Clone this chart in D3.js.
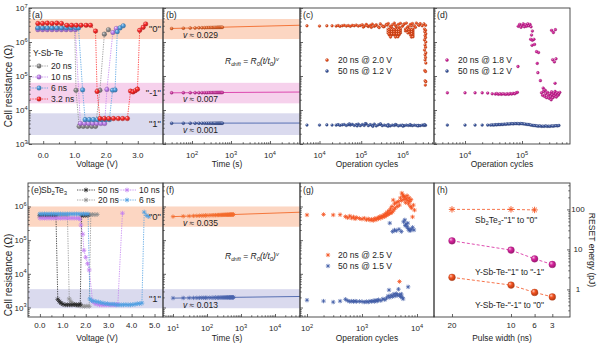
<!DOCTYPE html>
<html>
<head>
<meta charset="utf-8">
<script src="https://cdn.jsdelivr.net/npm/d3@7"></script>
<style>
body { margin: 0; background: #fff; }
svg { font-family: "Liberation Sans", Arial, sans-serif; }
</style>
</head>
<body>
<svg width="600" height="345"></svg>
<script>
// ---------- data ----------
// (a) Y-Sb-Te cell resistance vs programming voltage
const a20V = [-0.17,-0.02,0.13,0.28,0.43,0.58,0.73,0.88,1.00,1.04,1.14,1.27,1.40,1.54,1.66,1.80,1.94,2.07];
const a20R = [2.5e6,2.5e6,2.5e6,2.5e6,2.5e6,2.5e6,2.5e6,2.5e6,2.5e6,3.8e4,3.3e3,3.3e3,3.3e3,3.3e3,3.3e3,3.8e4,1.7e6,2.3e6];
const a10V = [-0.17,-0.02,0.13,0.28,0.43,0.58,0.73,0.88,1.02,1.18,1.31,1.44,1.57,1.70,1.83,1.95,2.02,2.21,2.32];
const a10R = [2.3e6,2.3e6,2.3e6,2.3e6,2.3e6,2.3e6,2.3e6,2.3e6,2.3e6,4.0e3,4.0e3,4.0e3,4.0e3,4.0e3,4.0e3,4.0e3,4.0e4,1.9e6,2.5e6];
const a6V = [-0.17,-0.02,0.13,0.28,0.43,0.58,0.73,0.88,1.04,1.12,1.25,1.33,1.46,1.59,1.72,1.85,1.98,2.10,2.20,2.28,2.35,2.44,2.54];
const a6R = [2.6e6,2.6e6,2.6e6,2.6e6,2.6e6,2.6e6,2.6e6,2.6e6,2.6e6,2.6e6,3.9e4,5.2e3,5.2e3,5.2e3,5.2e3,5.2e3,5.2e3,5.2e3,3.8e4,3.9e4,2.0e6,2.6e6,3.0e6];
const a3V = [-0.17,-0.02,0.13,0.28,0.43,0.58,0.75,0.90,1.05,1.20,1.36,1.50,1.66,1.71,1.80,1.94,2.08,2.23,2.38,2.52,2.67,2.77,2.85,2.92,2.99,3.06,3.17,3.25];
const a3R = [3.5e6,3.5e6,3.6e6,3.5e6,3.6e6,3.5e6,3.1e6,3.1e6,3.1e6,3.1e6,3.1e6,3.1e6,2.1e6,3.5e4,5.6e3,5.6e3,5.6e3,5.6e3,5.6e3,5.6e3,5.6e3,3.6e4,3.4e4,3.7e4,4.1e4,2.2e6,2.7e6,3.4e6];
const aNames = ["20 ns", "10 ns", "6 ns", "3.2 ns"];

// resistance windows of the three states
const topBands = [[1.22e6, 4.75e6], [1.57e4, 6.3e4], [1.84e3, 8.0e3]];
const botBands = [[2.5e5, 1.0e6], [950, 3.5e3]];
const stateTop = ['"0"', '"-1"', '"1"'];
const stateBot = ['"0"', '"1"'];

// (b) drift of the three Y-Sb-Te states
const bT = [30,60,90,120,150,180,210,240,270,300,330,360,390,420,450,480,510,540,570,600];
const b0 = [2.50e6,2.55e6,2.58e6,2.60e6,2.62e6,2.63e6,2.64e6,2.65e6,2.66e6,2.67e6,2.67e6,2.68e6,2.69e6,2.69e6,2.70e6,2.70e6,2.71e6,2.71e6,2.72e6,2.72e6];
const bM1 = [3.20e4,3.22e4,3.22e4,3.23e4,3.23e4,3.24e4,3.24e4,3.24e4,3.25e4,3.25e4,3.25e4,3.25e4,3.26e4,3.26e4,3.26e4,3.26e4,3.26e4,3.27e4,3.27e4,3.27e4];
const b1 = [4.10e3,4.10e3,4.10e3,4.10e3,4.10e3,4.10e3,4.10e3,4.10e3,4.10e3,4.10e3,4.11e3,4.11e3,4.11e3,4.11e3,4.11e3,4.11e3,4.11e3,4.11e3,4.11e3,4.11e3];
const bR0 = [2.5e6, 3.2e4, 4.1e3];
const bNu = [0.029, 0.007, 0.001];
const bT0 = 30;

// (c) endurance, Y-Sb-Te
const cCyc = [5e3,1e4,1.5e4,2e4,2.5e4,2.8e4,3.1e4,3.5e4,3.9e4,4.4e4,4.9e4,5.5e4,6.1e4,6.8e4,7.6e4,8.5e4,9.5e4,
  1.06e5,1.18e5,1.32e5,1.48e5,1.65e5,1.84e5,2.06e5,2.3e5,2.57e5,2.87e5,3.2e5,3.58e5,4.0e5,4.46e5,4.98e5,5.57e5,6.2e5,6.95e5,7.8e5,8.7e5,
  9.7e5,1.08e6,1.21e6,1.35e6,1.51e6,1.69e6,1.88e6,2.1e6,2.35e6,2.6e6,2.9e6,3.2e6,3.5e6];
const cOr = [3.0e6,2.95e6,3.0e6,3.0e6,
  2.95e6,3.05e6,2.9e6,3.0e6,3.1e6,2.95e6,3.05e6,2.9e6,3.1e6,3.0e6,3.15e6,2.95e6,3.05e6,
  3.2e6,2.9e6,3.3e6,2.85e6,3.1e6,3.35e6,2.9e6,3.2e6,2.8e6,3.4e6,3.0e6,2.85e6,3.3e6,3.5e6,2.9e6,3.2e6,3.6e6,2.8e6,3.3e6,3.55e6,
  2.9e6,3.4e6,3.6e6,2.85e6,3.3e6,3.5e6,3.0e6,3.6e6,3.2e6,3.45e6,3.0e6,3.4e6,3.1e6];
const cBl = [3.6e3,3.6e3,3.65e3,3.6e3,
  3.6e3,3.7e3,3.55e3,3.65e3,3.75e3,3.5e3,3.7e3,3.6e3,3.8e3,3.5e3,3.7e3,3.85e3,3.45e3,
  3.75e3,3.5e3,3.9e3,3.45e3,3.7e3,3.55e3,3.85e3,3.4e3,3.65e3,3.8e3,3.45e3,3.6e3,3.5e3,3.7e3,3.4e3,3.6e3,3.5e3,3.65e3,3.4e3,3.55e3,
  3.6e3,3.45e3,3.6e3,3.5e3,3.55e3,3.45e3,3.6e3,3.5e3,3.55e3,3.45e3,3.6e3,3.5e3,3.55e3];
const cOrMore = [
  [1.12e5,2.75e6],[1.4e5,3.0e6],[1.75e5,2.7e6],[2.2e5,3.05e6],[2.7e5,2.65e6],[3.4e5,2.8e6],[4.2e5,3.15e6],[5.3e5,2.7e6],
  [6.6e5,3.1e6],[8.2e5,2.7e6],[1.02e6,3.2e6],[1.28e6,2.7e6],[1.6e6,3.0e6],[2.0e6,2.7e6],[2.45e6,3.1e6],
  [4.4e5,2.41e6],[5.05e5,2.41e6],[5.8e5,2.41e6],[6.65e5,2.41e6],[7.6e5,2.41e6],[8.75e5,2.41e6],
  [4.4e5,2.11e6],[5.05e5,2.11e6],[5.8e5,2.11e6],[6.65e5,2.11e6],[7.6e5,2.11e6],[8.75e5,2.11e6],
  [4.4e5,1.84e6],[5.05e5,1.84e6],[5.8e5,1.84e6],[6.65e5,1.84e6],[7.6e5,1.84e6],[8.75e5,1.84e6],
  [4.7e5,1.61e6],[5.4e5,1.61e6],[6.2e5,1.61e6],[7.1e5,1.61e6],[8.1e5,1.61e6],[5.05e5,1.4e6],[6.65e5,1.4e6],[7.6e5,1.42e6],
  [4.7e5,2.26e6],[5.4e5,2.26e6],[6.2e5,2.26e6],[7.1e5,2.26e6],[8.1e5,2.26e6],
  [4.7e5,1.97e6],[5.4e5,1.97e6],[6.2e5,1.97e6],[7.1e5,1.97e6],[8.1e5,1.97e6],
  [4.7e5,1.72e6],[5.4e5,1.72e6],[6.2e5,1.72e6],[7.1e5,1.72e6],[8.1e5,1.72e6],
  [1.15e6,2.41e6],[1.32e6,2.41e6],[1.52e6,2.41e6],[1.75e6,2.41e6],[1.15e6,2.11e6],[1.32e6,2.11e6],[1.52e6,2.11e6],[1.75e6,2.11e6],
  [1.32e6,1.84e6],[1.52e6,1.84e6],[1.75e6,1.84e6],[1.52e6,1.61e6],[1.75e6,1.61e6],[1.6e6,1.4e6],[1.75e6,1.42e6],
  [1.23e6,2.26e6],[1.42e6,2.26e6],[1.63e6,2.26e6],[1.42e6,1.97e6],[1.63e6,1.97e6],[1.63e6,1.72e6],
  [3.3e6,2.4e6],[3.5e6,2.2e6],[3.35e6,2.0e6],[3.55e6,1.75e6],[3.4e6,1.55e6],[3.5e6,1.35e6],[3.3e6,1.15e6],[3.55e6,1.0e6],
  [3.4e6,8.2e5],[3.5e6,7.0e5],[3.3e6,5.8e5],[3.55e6,4.8e5],[3.4e6,4.2e5],[3.5e6,3.5e5],[3.4e6,2.96e5],[3.55e6,2.4e5],
  [3.35e6,1.45e5],[3.5e6,1.35e5],[3.4e6,7.2e4],[3.55e6,6.8e4],[3.45e6,5.4e4]];
const cBlMore = [[5.2e4,3.9e3],[8e4,3.4e3],[1.25e5,3.95e3],[1.9e5,3.3e3],[2.9e5,3.9e3],[4.4e5,3.35e3],[6.6e5,3.75e3],
  [1.0e6,3.35e3],[1.5e6,3.7e3],[2.3e6,3.4e3],[3.3e6,3.7e3]];

// (d) endurance, Y-Sb-Te, intermediate state
const dCyc = [4.9e3,1e4,1.5e4,2e4,2.5e4,2.8e4,3.0e4,3.2e4,3.4e4,3.6e4,3.85e4,4.1e4,4.35e4,4.6e4,4.9e4,5.2e4,5.5e4,5.85e4,6.2e4,6.6e4,
  7.0e4,7.45e4,7.9e4,8.4e4,8.9e4,9.45e4,1.0e5,1.06e5,1.13e5,1.2e5,1.27e5,1.35e5,1.43e5,1.52e5,1.61e5,
  1.71e5,1.82e5,1.93e5,2.05e5,2.18e5,2.31e5,2.45e5,2.6e5,2.76e5,2.93e5,3.1e5,3.3e5,3.5e5,3.7e5,3.95e5,4.2e5,4.45e5];
const dBl = [3.6e3,3.6e3,3.6e3,3.6e3,3.6e3,
  3.6e3,3.65e3,3.6e3,3.7e3,3.65e3,3.75e3,3.7e3,3.8e3,3.75e3,3.85e3,3.8e3,3.9e3,3.85e3,3.9e3,3.95e3,
  3.9e3,4.0e3,3.95e3,4.0e3,3.9e3,4.0e3,3.95e3,3.9e3,3.85e3,3.8e3,3.75e3,3.7e3,3.6e3,3.55e3,3.5e3,
  3.45e3,3.4e3,3.35e3,3.4e3,3.3e3,3.35e3,3.3e3,3.4e3,3.3e3,3.35e3,3.3e3,3.4e3,3.35e3,3.4e3,3.45e3,3.4e3,3.5e3];
const dMg = [
  [4.9e3,3.2e4],[1e4,3.2e4],[1.5e4,3.2e4],[2e4,3.2e4],[2.5e4,3.15e4],[3.0e4,3.0e4],[3.4e4,2.95e4],[3.6e4,3.05e4],[3.85e4,2.9e4],
  [4.1e4,3.0e4],[4.35e4,2.9e4],[4.6e4,3.0e4],[4.9e4,2.95e4],[5.2e4,2.9e4],[5.5e4,3.0e4],[5.85e4,2.9e4],[6.2e4,3.05e4],[6.6e4,2.95e4],
  [7.0e4,3.1e4],[7.45e4,3.0e4],[7.9e4,3.2e4],[8.3e4,3.3e4],[8.5e4,1.9e5],
  [8.6e4,2.9e6],[9.1e4,3.3e6],[9.6e4,2.7e6],[1.0e5,3.1e6],[1.05e5,3.4e6],[1.1e5,2.8e6],[1.15e5,3.2e6],[1.2e5,2.9e6],[1.26e5,3.4e6],
  [1.32e5,3.0e6],[1.38e5,3.3e6],[1.44e5,2.8e6],
  [1.52e5,2.1e6],[1.47e5,1.6e6],[1.42e5,1.2e6],[1.52e5,1.12e6],[1.62e5,1.2e6],[1.5e5,8.0e5],[1.66e5,8.5e5],[1.8e5,5.2e5],[1.95e5,4.9e5],
  [1.85e5,2.35e5],[1.9e5,1.25e5],[2.1e5,7.3e4],[2.35e5,4.4e4],[2.45e5,3.9e4],
  [2.2e5,3.2e4],[2.3e5,2.7e4],[2.4e5,3.5e4],[2.5e5,2.5e4],[2.6e5,3.0e4],[2.7e5,2.3e4],[2.8e5,3.3e4],[2.9e5,2.7e4],[3.0e5,2.2e4],
  [3.1e5,3.0e4],[3.2e5,2.5e4],[3.3e5,3.4e4],[3.4e5,2.8e4],[3.5e5,2.3e4],[3.6e5,3.1e4],[3.7e5,2.6e4],[3.8e5,3.5e4],[3.9e5,2.9e4],
  [4.0e5,2.4e4],[4.15e5,3.2e4],[4.3e5,2.7e4],[4.45e5,3.0e4],[4.6e5,3.3e4],[2.55e5,3.8e4],[3.25e5,2.0e4],
  [3.3e5,2.2e6],[3.55e5,1.9e6],[3.85e5,2.3e6],[3.45e5,3.0e5],[3.7e5,2.6e5],[3.95e5,3.2e5],[3.8e5,6.1e4]];

// (e) Sb2Te3 cell resistance vs voltage
const e50V = [0.0,0.1,0.2,0.3,0.4,0.5,0.6,0.7,0.78,0.85,0.92,1.0,1.1,1.2,1.3,1.4,1.5,1.6,1.7,1.76,1.82,1.9,2.0,2.1];
const e50R = [5.3e5,5.3e5,5.3e5,5.3e5,5.3e5,5.3e5,5.3e5,5.3e5,1.75e3,1.5e3,1.35e3,1.25e3,1.2e3,1.2e3,1.2e3,1.2e3,1.22e3,1.2e3,1.2e3,1.25e3,5.3e5,5.5e5,5.4e5,5.5e5];
const e20V = [0.0,0.1,0.2,0.3,0.4,0.5,0.6,0.7,0.8,0.9,1.0,1.1,1.2,1.28,1.35,1.45,1.55,1.65,1.75,1.85,1.95,2.05,2.15,2.22,2.3,2.4,2.5];
const e20R = [5.5e5,5.5e5,5.5e5,5.5e5,5.5e5,5.5e5,5.5e5,5.5e5,5.5e5,5.5e5,5.5e5,5.5e5,5.5e5,1.8e3,1.5e3,1.3e3,1.2e3,1.15e3,1.12e3,1.1e3,1.08e3,1.1e3,1.08e3,5.7e5,5.8e5,5.7e5,5.8e5];
const e10V = [0.0,0.1,0.2,0.3,0.4,0.5,0.6,0.7,0.8,0.9,1.0,1.1,1.2,1.3,1.4,1.5,1.6,1.7,1.75,1.79,1.87,1.92,2.0,2.08,2.15,
  2.3,2.4,2.5,2.6,2.7,2.8,2.9,3.0,3.1,3.2,3.3,3.4,3.6];
const e10R = [4.5e5,4.5e5,4.5e5,4.5e5,4.5e5,4.5e5,4.5e5,4.5e5,4.5e5,4.5e5,4.5e5,4.5e5,4.5e5,4.5e5,4.5e5,4.5e5,4.5e5,4.5e5,4.2e5,2.8e5,1.5e5,5.0e4,3.1e4,2.0e4,1.3e4,
  1.5e3,1.3e3,1.25e3,1.2e3,1.2e3,1.2e3,1.2e3,1.2e3,1.2e3,1.2e3,1.2e3,1.25e3,6.3e5];
const e6V = [0.0,0.1,0.2,0.3,0.4,0.5,0.6,0.7,0.8,0.9,1.0,1.1,1.2,1.3,1.4,1.5,1.6,1.7,1.8,1.9,2.0,2.1,2.18,
  2.25,2.35,2.45,2.55,2.65,2.75,2.85,2.95,3.05,3.15,3.25,3.35,3.45,3.55,3.65,3.75,3.85,3.95,4.05,4.15,4.25,4.35,4.45,4.55,4.66,4.75];
const e6R = [6.0e5,6.0e5,6.0e5,6.0e5,6.0e5,6.0e5,6.0e5,6.0e5,6.0e5,6.0e5,6.0e5,6.0e5,6.0e5,6.0e5,6.0e5,6.0e5,6.0e5,6.0e5,6.0e5,6.0e5,6.0e5,6.0e5,1.8e3,
  1.6e3,1.55e3,1.5e3,1.45e3,1.4e3,1.35e3,1.3e3,1.3e3,1.25e3,1.25e3,1.25e3,1.2e3,1.2e3,1.2e3,1.2e3,1.22e3,1.2e3,1.2e3,1.22e3,1.25e3,1.3e3,1.3e3,1.35e3,6.8e5,5.4e5,5.0e5];
const eNames = ["50 ns", "20 ns", "10 ns", "6 ns"];

// (f) drift of the two Sb2Te3 states
const fT = [10,20,30,40,50,60,70,80,90,100,120,140,160,180,200,220,240,260,280,300,320,340,360,380,400,420,440,460,480,500,520,540,560,580,600];
const f0 = [5.00e5,5.12e5,5.19e5,5.25e5,5.29e5,5.33e5,5.35e5,5.38e5,5.40e5,5.42e5,5.46e5,5.49e5,5.52e5,5.54e5,5.56e5,5.58e5,5.60e5,5.62e5,
  5.63e5,5.65e5,5.66e5,5.67e5,5.68e5,5.69e5,5.70e5,5.71e5,5.72e5,5.73e5,5.74e5,5.74e5,5.75e5,5.76e5,5.76e5,5.77e5,5.78e5];
const f1 = [1.90e3,1.92e3,1.93e3,1.93e3,1.94e3,1.94e3,1.95e3,1.95e3,1.95e3,1.96e3,1.96e3,1.96e3,1.97e3,1.97e3,1.97e3,1.97e3,1.98e3,1.98e3,
  1.98e3,1.98e3,1.98e3,1.98e3,1.99e3,1.99e3,1.99e3,1.99e3,1.99e3,1.99e3,1.99e3,2.00e3,2.00e3,2.00e3,2.00e3,2.00e3,2.00e3];
const fR0 = [5.0e5, 1.9e3];
const fNu = [0.035, 0.013];
const fT0 = 10;

// (g) endurance, Sb2Te3
const gOr = [[100,5.6e5],[200,5.8e5],[300,5.6e5],[400,5.7e5],[500,5.0e5],[550,4.6e5],[600,5.2e5],[650,4.5e5],[700,4.9e5],[750,4.3e5],
  [800,4.7e5],[900,4.4e5],[1000,4.2e5],[1100,4.5e5],[1200,4.0e5],[1300,4.3e5],[1400,3.9e5],[1500,4.2e5],[1600,3.8e5],[1700,4.4e5],
  [1800,4.0e5],[1900,4.6e5],[2000,4.3e5],[2100,5.0e5],[2200,4.5e5],[2300,5.2e5],[2400,4.8e5],[2500,5.6e5],[2600,5.0e5],[2700,6.2e5],
  [2800,5.4e5],[2900,6.8e5],[3000,5.8e5],[3100,7.5e5],[3200,6.2e5],[3300,8.5e5],[3400,6.5e5],[3500,1.0e6],[3600,7.0e5],[3700,1.55e6],
  [3800,8.0e5],[3900,1.2e6],[4000,9.0e5],[4200,1.3e6],[4400,1.0e6],[4800,5.9e3],[4600,1.4e6],[4800,1.1e6],[5000,1.8e6],[5200,1.5e6],
  [5300,2.5e6],[5500,2.2e6],[5700,2.0e6],[5800,1.6e6],[6000,1.9e6],[6200,1.3e6],[6400,1.7e6],[6600,2.1e6],[6800,1.5e6],[7000,1.2e6],
  [7200,1.8e6],[7400,1.4e6],[7600,1.0e6],[7800,1.6e6],[8000,9.0e5],[8300,4.9e5],[8600,1.1e6],[9000,7.8e5]];
const gBl = [[100,1.65e3],[200,1.55e3],[300,1.45e3],[400,1.55e3],[500,1.75e3],[550,1.6e3],[600,1.5e3],[650,1.55e3],[700,1.5e3],
  [750,1.55e3],[800,1.5e3],[900,1.52e3],[1000,1.5e3],[1100,1.45e3],[1200,1.5e3],[1300,1.45e3],[1400,1.55e3],[1500,1.5e3],[1600,1.6e3],
  [1700,1.5e3],[1800,1.65e3],[1900,1.55e3],[2000,1.7e3],[2200,1.6e3],[2400,1.8e3],[2600,1.7e3],[2800,1.9e3],[3000,2.2e3],[3100,3.3e3],
  [3200,2.0e3],[3400,2.3e3],[3600,2.1e3],[3800,2.5e3],[4000,2.2e3],[4200,2.6e3],[4400,2.3e3],[4600,3.5e3],[4800,2.4e3],[5000,2.1e3],
  [5200,2.5e3],[5400,2.0e3],[5600,1.8e3],[6900,4.1e3],
  [3200,3.2e5],[3600,1.8e5],[3900,2.0e5],[4200,1.9e5],[4700,2.1e5],[5200,1.8e5],[5700,3.5e5],[6000,4.0e5],[6300,3.0e5],[6600,2.5e5],
  [6900,2.2e5],[7200,2.0e5],[7500,1.9e5],[6100,2.7e5],[6800,3.2e5],[7800,2.1e5],[8300,2.4e5],[8800,2.0e5]];

// (h) RESET energy vs pulse width
const hWsb = [20, 10, 6];
const hEsb = [100, 100, 97];
const hW = [20, 10, 6, 3];
const hE1 = [16.4, 9.6, 5.8, 4.2];
const hE2 = [2.0, 1.28, 0.84, 0.65];

// ---------- drawing ----------
const svg = d3.select("svg");
const defs = svg.append("defs");
const AX = "#3c3c3c", TXT = "#1e1e1e";
const col = {red: "#ff2a2a", gray: "#8e8e8e", violet: "#c17ff0", sky: "#4f9fe2", black: "#262626",
  orange: "#f4511e", magenta: "#d6229c", navy: "#3f5ba5", fitOr: "#f36b2c", fitMg: "#d93aa8", fitNv: "#4a64ad"};
const zip = (a, b) => a.map((v, i) => [v, b[i]]);

function ball(id, c) {
  const g = defs.append("radialGradient").attr("id", id)
    .attr("cx", "40%").attr("cy", "38%").attr("r", "62%").attr("fx", "32%").attr("fy", "28%");
  g.append("stop").attr("offset", 0).attr("stop-color", d3.interpolateRgb(c, "#fff")(0.7));
  g.append("stop").attr("offset", 0.45).attr("stop-color", c);
  g.append("stop").attr("offset", 1).attr("stop-color", d3.color(c).darker(0.9));
  return `url(#${id})`;
}

function starPath(s) {
  const d = s * 0.72;
  return `M${-s},0H${s}M0,${-s}V${s}M${-d},${-d}L${d},${d}M${-d},${d}L${d},${-d}`;
}

// scales: one pair per panel
const xa = d3.scaleLinear([-0.45, 3.8], [29, 163]);
const ya = d3.scaleLog([1e3, 1e7], [144, 8]);
const xb = d3.scaleLog([10 ** 1.256, 10 ** 4.77], [163, 300]);
const xc = d3.scaleLog([10 ** 3.532, 10 ** 6.746], [300, 434]);
const xd = d3.scaleLog([10 ** 3.456, 10 ** 5.842], [434, 570]);
const xe = d3.scaleLinear([-0.52, 5.37], [28, 163]);
const ye = d3.scaleLog([10 ** 2.718, 10 ** 6.697], [317, 183]);
const xf = d3.scaleLog([10 ** 0.706, 10 ** 4.735], [163, 300]);
const xg = d3.scaleLog([10 ** 1.873, 10 ** 4.309], [300, 434]);
const xh = d3.scaleLinear([23.05, 0], [434, 570]);
const yh = d3.scaleLog([10 ** -0.69, 10 ** 2.66], [317, 183]);

function decades(s) {
  const [a, b] = s.domain().map(Math.log10), out = [];
  for (let e = Math.ceil(a); e <= Math.floor(b); e++) out.push(10 ** e);
  return out;
}
function minors(s) {
  const [a, b] = s.domain(), out = [];
  for (let e = Math.floor(Math.log10(a)); e <= Math.ceil(Math.log10(b)); e++)
    for (let m = 2; m < 10; m++) { const v = m * 10 ** e; if (v > a && v < b) out.push(v); }
  return out;
}

function ticks(axis, s, pos, major, minor) {
  const g = svg.append("g").attr("transform", axis === "x" ? `translate(0,${pos})` : `translate(${pos},0)`);
  const mk = axis === "x" ? d3.axisBottom : (axis === "y" ? d3.axisLeft : d3.axisRight);
  g.call(mk(s).tickValues(major).tickSize(-3).tickFormat(""));
  if (minor) g.append("g").call(mk(s).tickValues(minor).tickSize(-1.7).tickFormat(""));
  g.selectAll(".domain").remove();
  g.selectAll("line").attr("stroke", AX).attr("stroke-width", 0.8);
}

function text(x, y, str, opt = {}) {
  return svg.append("text").attr("x", x).attr("y", y).attr("fill", TXT)
    .attr("font-size", opt.size || 8.5).attr("text-anchor", opt.anchor || "start").text(str);
}
function pow10(x, y, e, anchor) {
  const t = svg.append("text").attr("x", x).attr("y", y).attr("fill", TXT)
    .attr("font-size", 8).attr("text-anchor", anchor);
  t.append("tspan").text("10");
  t.append("tspan").attr("dy", -3.4).attr("font-size", 5.6).text(e);
}
function frame(xs, ys) {
  const [x0, x1] = xs.range(), [y1, y0] = ys.range();
  svg.append("rect").attr("x", x0).attr("y", y0).attr("width", x1 - x0).attr("height", y1 - y0)
    .attr("fill", "none").attr("stroke", AX).attr("stroke-width", 0.9);
}

function balls(data, xs, ys, r, fill, stroke) {
  svg.append("g").selectAll("circle").data(data).join("circle")
    .attr("cx", d => xs(d[0])).attr("cy", d => ys(d[1])).attr("r", r)
    .attr("fill", fill).attr("stroke", stroke).attr("stroke-width", 0.35);
}
function stars(data, xs, ys, s, c, w) {
  svg.append("g").selectAll("path").data(data).join("path")
    .attr("transform", d => `translate(${xs(d[0])},${ys(d[1])})`)
    .attr("d", starPath(s)).attr("fill", "none").attr("stroke", c).attr("stroke-width", w || 0.8);
}
function trace(data, xs, ys, c, dash, w) {
  svg.append("path").datum(data)
    .attr("d", d3.line().x(d => xs(d[0])).y(d => ys(d[1])))
    .attr("fill", "none").attr("stroke", c).attr("stroke-width", w || 0.8)
    .attr("stroke-dasharray", dash || null);
}

// shaded state windows behind (a)-(b) and (e)-(f)
const topFill = ["#fcd6c2", "#f6d1ec", "#dadaee"];
topBands.forEach((b, i) => svg.append("rect").attr("x", xa.range()[0]).attr("width", xb.range()[1] - xa.range()[0])
  .attr("y", ya(b[1])).attr("height", ya(b[0]) - ya(b[1])).attr("fill", topFill[i]));
const botFill = ["#fcd6c2", "#dadaee"];
botBands.forEach((b, i) => svg.append("rect").attr("x", xe.range()[0]).attr("width", xf.range()[1] - xe.range()[0])
  .attr("y", ye(b[1])).attr("height", ye(b[0]) - ye(b[1])).attr("fill", botFill[i]));

// ---------- (a) ----------
const aSeries = [zip(a20V, a20R), zip(a10V, a10R), zip(a6V, a6R), zip(a3V, a3R)];
const aCols = [col.gray, col.violet, col.sky, col.red];
const aFills = aCols.map((c, i) => ball("ga" + i, c));
aSeries.forEach((s, i) => trace(s, xa, ya, aCols[i], "1.3,1.1", 0.8));
aSeries.forEach((s, i) => balls(s, xa, ya, 2.3, aFills[i], d3.color(aCols[i]).darker(1)));
text(33, 56, "Y-Sb-Te");
aNames.forEach((n, i) => {
  const y = 66 + i * 11;
  svg.append("line").attr("x1", 30).attr("x2", 48).attr("y1", y).attr("y2", y)
    .attr("stroke", aCols[i]).attr("stroke-width", 0.8).attr("stroke-dasharray", "1.3,1.1");
  svg.append("circle").attr("cx", 39).attr("cy", y).attr("r", 2.3).attr("fill", aFills[i])
    .attr("stroke", d3.color(aCols[i]).darker(1)).attr("stroke-width", 0.35);
  text(51, y + 3, n);
});

// ---------- (b) ----------
const bSeries = [zip(bT, b0), zip(bT, bM1), zip(bT, b1)];
const bCols = [col.fitOr, col.fitMg, col.fitNv];
const bTmax = xb.domain()[1];
bR0.forEach((r0, i) => trace([[bT0, r0], [bTmax, r0 * (bTmax / bT0) ** bNu[i]]], xb, ya, bCols[i], null, 0.9));
bSeries.forEach((s, i) => balls(s, xb, ya, 1.5, ball("gb" + i, bCols[i]), d3.color(bCols[i]).darker(1)));
function nuLabel(x, y, nu) {
  const t = text(x, y, "");
  t.append("tspan").attr("font-style", "italic").text("v");
  t.append("tspan").text(" \u2248 " + nu.toFixed(3));
}
bR0.forEach((r0, i) => {
  nuLabel(183, ya(r0) + 9.5, bNu[i]);
  text(161, ya(r0) + 3.5, stateTop[i], {anchor: "end", size: 9.5});
});
function formula(x, y) {
  const t = text(x, y, "");
  t.append("tspan").attr("font-style", "italic").text("R");
  t.append("tspan").attr("font-style", "italic").attr("font-size", 5.8).attr("dy", 2).text("drift");
  t.append("tspan").attr("dy", -2).text(" = ");
  t.append("tspan").attr("font-style", "italic").text("R");
  t.append("tspan").attr("font-style", "italic").attr("font-size", 5.8).attr("dy", 2).text("0");
  t.append("tspan").attr("dy", -2).attr("font-style", "italic").text("(t/t");
  t.append("tspan").attr("font-style", "italic").attr("font-size", 5.8).attr("dy", 2).text("0");
  t.append("tspan").attr("dy", -2).attr("font-style", "italic").text(")");
  t.append("tspan").attr("font-style", "italic").attr("font-size", 5.8).attr("dy", -3.5).text("v");
}
formula(225, 64);

// ---------- (c) ----------
const cOrG = ball("gco", col.orange), cBlG = ball("gcb", col.navy);
balls(zip(cCyc, cBl).concat(cBlMore), xc, ya, 1.35, cBlG, d3.color(col.navy).darker(0.8));
balls(zip(cCyc, cOr).concat(cOrMore), xc, ya, 1.35, cOrG, d3.color(col.orange).darker(0.8));
balls([[0, 0]], () => 327, () => 60, 1.5, cOrG, d3.color(col.orange).darker(0.8));
balls([[0, 0]], () => 327, () => 71, 1.5, cBlG, d3.color(col.navy).darker(0.8));
text(338, 63, "20 ns @ 2.0 V");
text(338, 74, "50 ns @ 1.2 V");

// ---------- (d) ----------
const dMgG = ball("gdm", col.magenta);
balls(zip(dCyc, dBl), xd, ya, 1.4, cBlG, d3.color(col.navy).darker(0.8));
balls(dMg, xd, ya, 1.4, dMgG, d3.color(col.magenta).darker(0.8));
balls([[0, 0]], () => 447, () => 60, 1.5, dMgG, d3.color(col.magenta).darker(0.8));
balls([[0, 0]], () => 447, () => 71, 1.5, cBlG, d3.color(col.navy).darker(0.8));
text(458, 63, "20 ns @ 1.8 V");
text(458, 74, "50 ns @ 1.2 V");

// ---------- (e) ----------
const eSeries = [zip(e50V, e50R), zip(e20V, e20R), zip(e10V, e10R), zip(e6V, e6R)];
const eCols = [col.black, col.gray, col.violet, col.sky];
const eOrder = [1, 0, 2, 3];
eOrder.forEach(i => trace(eSeries[i], xe, ye, eCols[i], "1.3,1.1", 0.8));
eOrder.forEach(i => stars(eSeries[i], xe, ye, 2.4, eCols[i], 0.75));
eNames.forEach((n, i) => {
  const cx = i < 2 ? 77 : 118, y = 190 + (i % 2) * 10;
  svg.append("line").attr("x1", cx).attr("x2", cx + 18).attr("y1", y).attr("y2", y)
    .attr("stroke", eCols[i]).attr("stroke-width", 0.8).attr("stroke-dasharray", "1.3,1.1");
  stars([[0, 0]], () => cx + 9, () => y, 2.4, eCols[i], 0.75);
  text(cx + 21, y + 3, n);
});
{
  const t = text(41, 193, "");
  t.append("tspan").text("Sb");
  t.append("tspan").attr("font-size", 6).attr("dy", 2).text("2");
  t.append("tspan").attr("dy", -2).text("Te");
  t.append("tspan").attr("font-size", 6).attr("dy", 2).text("3");
}

// ---------- (f) ----------
const fSeries = [zip(fT, f0), zip(fT, f1)];
const fCols = [col.fitOr, col.fitNv];
const fTmax = xf.domain()[1];
fR0.forEach((r0, i) => trace([[fT0, r0], [fTmax, r0 * (fTmax / fT0) ** fNu[i]]], xf, ye, fCols[i], null, 0.9));
fSeries.forEach((s, i) => stars(s, xf, ye, 2.2, fCols[i], 0.7));
fR0.forEach((r0, i) => {
  nuLabel(183, ye(r0) + 9.5, fNu[i]);
  text(161, ye(r0) + 3.5, stateBot[i], {anchor: "end", size: 9.5});
});
formula(225, 259);

// ---------- (g) ----------
stars(gBl, xg, ye, 2.2, col.navy, 0.75);
stars(gOr, xg, ye, 2.2, col.orange, 0.75);
stars([[0, 0]], () => 328, () => 255, 2.2, col.orange, 0.75);
stars([[0, 0]], () => 328, () => 266, 2.2, col.navy, 0.75);
text(338, 258, "20 ns @ 2.5 V");
text(338, 269, "50 ns @ 1.5 V");

// ---------- (h) ----------
trace(zip(hWsb, hEsb), xh, yh, col.orange, "3,2", 0.8);
trace(zip(hW, hE1), xh, yh, col.magenta, "3,2", 0.8);
trace(zip(hW, hE2), xh, yh, col.orange, "3,2", 0.8);
stars(zip(hWsb, hEsb), xh, yh, 3.2, col.orange, 0.9);
balls(zip(hW, hE1), xh, yh, 3.4, ball("ghm", col.magenta), d3.color(col.magenta).darker(1));
balls(zip(hW, hE2), xh, yh, 3.4, ball("gho", col.orange), d3.color(col.orange).darker(1));
{
  const t = text(475, 223, "");
  t.append("tspan").text("Sb");
  t.append("tspan").attr("font-size", 6).attr("dy", 2).text("2");
  t.append("tspan").attr("dy", -2).text("Te");
  t.append("tspan").attr("font-size", 6).attr("dy", 2).text("3");
  t.append("tspan").attr("dy", -2).text('-"1" to "0"');
}
text(475, 275, 'Y-Sb-Te-"1" to "-1"');
text(475, 308, 'Y-Sb-Te-"-1" to "0"');

// ---------- axes, frames, labels ----------
const panels = [
  [xa, ya, "(a)"], [xb, ya, "(b)"], [xc, ya, "(c)"], [xd, ya, "(d)"],
  [xe, ye, "(e)"], [xf, ye, "(f)"], [xg, ye, "(g)"], [xh, yh, "(h)"]];
panels.forEach(([xs, ys, lab]) => {
  frame(xs, ys);
  text(xs.range()[0] + 3, ys.range()[1] + 9.5, lab, {size: 8.7});
});

// y ticks
[xa, xb, xc, xd].forEach(xs => ticks("y", ya, xs.range()[0], decades(ya), minors(ya)));
[xe, xf, xg].forEach(xs => ticks("y", ye, xs.range()[0], decades(ye), minors(ye)));
ticks("r", yh, xh.range()[1], decades(yh), minors(yh));
decades(ya).forEach(v => pow10(27.5, ya(v) + 3, Math.log10(v), "end"));
decades(ye).forEach(v => pow10(26.5, ye(v) + 3, Math.round(Math.log10(v)), "end"));
decades(yh).forEach(v => text(578, yh(v) + 3, String(v), {size: 8, anchor: "middle"}));

// x ticks
ticks("x", xa, 144, [0, 1, 2, 3], [-0.5, 0.5, 1.5, 2.5, 3.5]);
[0, 1, 2, 3].forEach(v => text(xa(v), 158, v.toFixed(1), {size: 8, anchor: "middle"}));
[[xb, 144], [xc, 144], [xd, 144], [xf, 317], [xg, 317]].forEach(([xs, y]) => {
  ticks("x", xs, y, decades(xs), minors(xs));
  decades(xs).forEach(v => pow10(xs(v), y + 14, Math.round(Math.log10(v)), "middle"));
});
ticks("x", xe, 317, [0, 1, 2, 3, 4, 5], [0.5, 1.5, 2.5, 3.5, 4.5]);
[0, 1, 2, 3, 4, 5].forEach(v => text(xe(v), 328, v.toFixed(1), {size: 8, anchor: "middle"}));
ticks("x", xh, 317, [20, 10, 6, 3]);
[20, 10, 6, 3].forEach(v => text(xh(v), 328, String(v), {size: 8, anchor: "middle"}));

// axis titles
const T = 8.4;
text(97, 167, "Voltage (V)", {size: T, anchor: "middle"});
text(227, 167, "Time (s)", {size: T, anchor: "middle"});
text(367, 167, "Operation cycles", {size: T, anchor: "middle"});
text(502, 167, "Operation cycles", {size: T, anchor: "middle"});
text(97, 341, "Voltage (V)", {size: T, anchor: "middle"});
text(227, 341, "Time (s)", {size: T, anchor: "middle"});
text(367, 341, "Operation cycles", {size: T, anchor: "middle"});
text(502, 341, "Pulse width (ns)", {size: T, anchor: "middle"});
text(0, 0, "Cell resistance (\u03a9)", {size: 10, anchor: "middle"}).attr("transform", "translate(12,86) rotate(-90)");
text(0, 0, "Cell resistance (\u03a9)", {size: 10, anchor: "middle"}).attr("transform", "translate(12,275) rotate(-90)");
text(0, 0, "RESET energy (pJ)", {size: 8.6, anchor: "middle"}).attr("transform", "translate(589,250) rotate(90)");
</script>
</body>
</html>
